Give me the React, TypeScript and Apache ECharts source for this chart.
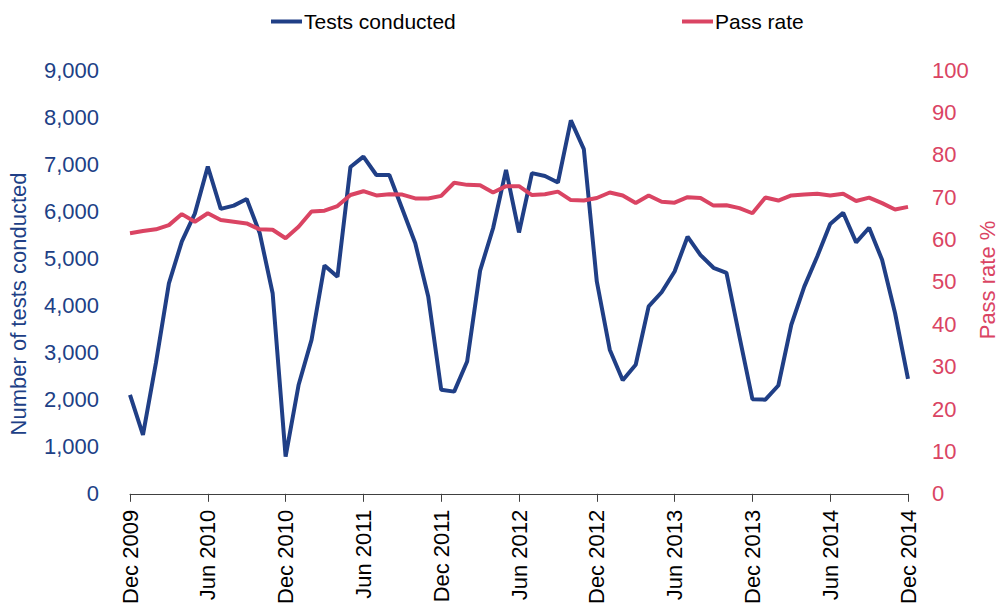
import React, { useEffect, useRef } from "react";
import * as echarts from "echarts";

const MONTHS = ["Jan", "Feb", "Mar", "Apr", "May", "Jun", "Jul", "Aug", "Sep", "Oct", "Nov", "Dec"];
const YEARS = [2010, 2011, 2012, 2013, 2014];
const categories: string[] = ["Dec 2009"];
YEARS.forEach((y) => MONTHS.forEach((m) => categories.push(`${m} ${y}`)));

const testsConducted = [
  2100,
  1250, 2780, 4470, 5360, 5950, 6950, 6050, 6120, 6260, 5540, 4260, 790,
  2310, 3270, 4850, 4610, 6940, 7160, 6770, 6770, 6050, 5320, 4190, 2210,
  2170, 2810, 4740, 5640, 6880, 5550, 6810, 6750, 6610, 7930, 7320, 4510,
  3060, 2410, 2740, 3980, 4280, 4720, 5460, 5070, 4800, 4690, 3340, 2010,
  2000, 2300, 3590, 4400, 5040, 5730, 5970, 5340, 5650, 4970, 3840, 2440,
];

const passRate = [
  61.5,
  62.0, 62.4, 63.4, 66.0, 64.2, 66.2, 64.6, 64.2, 63.8, 62.4, 62.3, 60.3,
  63.0, 66.6, 66.8, 67.9, 70.5, 71.4, 70.4, 70.7, 70.6, 69.7, 69.7, 70.3,
  73.4, 72.9, 72.8, 71.1, 72.6, 72.6, 70.5, 70.7, 71.3, 69.3, 69.2, 69.8,
  71.1, 70.4, 68.6, 70.4, 68.9, 68.7, 70.0, 69.8, 68.0, 68.1, 67.4, 66.2,
  69.9, 69.2, 70.4, 70.6, 70.8, 70.4, 70.8, 69.1, 69.9, 68.6, 67.1, 67.7,
];

const BLUE = "#203F86";
const RED = "#DA4463";
const FONT = "Liberation Sans, Arial, sans-serif";

export default function App() {
  const ref = useRef<HTMLDivElement>(null);
  useEffect(() => {
    if (!ref.current) return;
    const chart = echarts.init(ref.current, null, { renderer: "svg" });
    chart.setOption({
      animation: false,
      backgroundColor: "#ffffff",
      textStyle: { fontFamily: FONT },
      grid: { left: 130, right: 92, top: 70, bottom: 113, containLabel: false },
      legend: [
        {
          data: ["Tests conducted"],
          left: 266,
          top: 6,
          icon: "rect",
          itemWidth: 31,
          itemHeight: 4,
          textStyle: { fontSize: 21, color: "#000", fontFamily: FONT, padding: [0, 0, 0, -3] },
        },
        {
          data: ["Pass rate"],
          left: 677,
          top: 6,
          icon: "rect",
          itemWidth: 31,
          itemHeight: 4,
          textStyle: { fontSize: 21, color: "#000", fontFamily: FONT, padding: [0, 0, 0, -3] },
        },
      ],
      xAxis: {
        type: "category",
        data: categories,
        boundaryGap: false,
        axisLine: { lineStyle: { color: "#404040", width: 1 } },
        axisTick: { interval: 5, length: 8, lineStyle: { color: "#404040" } },
        axisLabel: {
          interval: 5,
          rotate: 90,
          margin: 16,
          fontSize: 22,
          color: "#000",
          fontFamily: FONT,
        },
        splitLine: { show: false },
      },
      yAxis: [
        {
          type: "value",
          min: 0,
          max: 9000,
          interval: 1000,
          axisLine: { show: false },
          axisTick: { show: false },
          splitLine: { show: false },
          axisLabel: {
            margin: 31,
            fontSize: 22,
            color: BLUE,
            fontFamily: FONT,
            formatter: (v: number) => v.toLocaleString("en-US"),
          },
        },
        {
          type: "value",
          min: 0,
          max: 100,
          interval: 10,
          position: "right",
          axisLine: { show: false },
          axisTick: { show: false },
          splitLine: { show: false },
          axisLabel: { margin: 24, fontSize: 22, color: RED, fontFamily: FONT },
        },
      ],
      graphic: [
        {
          type: "text",
          x: 18,
          y: 304,
          rotation: Math.PI / 2,
          style: {
            text: "Number of tests conducted",
            fill: BLUE,
            font: `22px ${FONT}`,
            textAlign: "center",
            textVerticalAlign: "middle",
          },
        },
        {
          type: "text",
          x: 987,
          y: 280,
          rotation: Math.PI / 2,
          style: {
            text: "Pass rate %",
            fill: RED,
            font: `22px ${FONT}`,
            textAlign: "center",
            textVerticalAlign: "middle",
          },
        },
      ],
      series: [
        {
          name: "Tests conducted",
          type: "line",
          yAxisIndex: 0,
          data: testsConducted,
          showSymbol: false,
          symbol: "none",
          lineStyle: { color: BLUE, width: 4 },
          itemStyle: { color: BLUE },
        },
        {
          name: "Pass rate",
          type: "line",
          yAxisIndex: 1,
          data: passRate,
          showSymbol: false,
          symbol: "none",
          lineStyle: { color: RED, width: 4 },
          itemStyle: { color: RED },
        },
      ],
    });
    return () => chart.dispose();
  }, []);
  return (
    <div
      ref={ref}
      style={{ position: "fixed", left: 0, top: 0, width: 1000, height: 607 }}
    />
  );
}
